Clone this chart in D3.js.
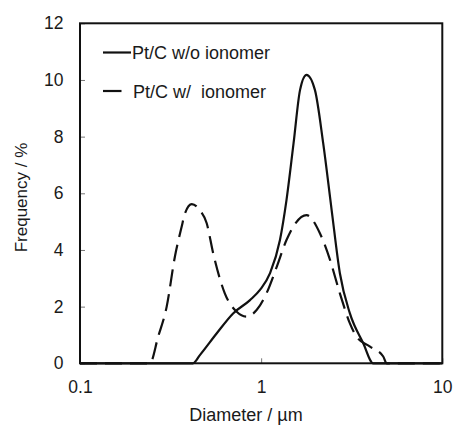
<!DOCTYPE html>
<html>
<head>
<meta charset="utf-8">
<script src="https://cdn.jsdelivr.net/npm/d3@7"></script>
<style>
  html, body { margin: 0; padding: 0; background: #fff; }
  svg { display: block; }
  text { font-family: "Liberation Sans", Arial, sans-serif; fill: #1a1a1a; }
</style>
</head>
<body>
<div id="chart"></div>
<script>
// ---- Data ----
const solidDiameter = [0.1, 0.42, 0.459, 0.569, 0.70, 0.868, 0.985, 1.12, 1.27, 1.38, 1.51, 1.64, 1.78, 1.98, 2.20, 2.45, 2.72, 3.09, 3.66, 4.16, 10];
const solidFreq     = [0,   0,    0.29,  1.06,  1.76, 2.23,  2.59,  3.18, 4.35, 5.76, 7.77, 9.65, 10.18, 9.65, 7.77, 5.41, 3.18, 1.76, 0.71, 0,   0];

const dashDiameter = [0.1, 0.243, 0.270, 0.301, 0.334, 0.364, 0.38, 0.414, 0.459, 0.50, 0.545, 0.63, 0.733, 0.83, 0.944, 1.07, 1.22, 1.38, 1.55, 1.78, 2.11, 2.40, 2.72, 3.09, 3.36, 3.99, 4.72, 4.93, 10];
const dashFreq     = [0,   0,     0.94,  2.0,   3.76,  4.82,  5.3,  5.62,  5.4,   4.95, 3.85,  2.47, 1.82,  1.65, 1.88,  2.47, 3.41, 4.35, 4.95, 5.23, 4.59, 3.65, 2.47, 1.41, 0.94, 0.59, 0.24, 0,    0];

const seriesNames = ["Pt/C w/o ionomer", "Pt/C w/  ionomer"];
const xTicks = [0.1, 1, 10];
const xTickLabels = ["0.1", "1", "10"];
const yTicks = [0, 2, 4, 6, 8, 10, 12];
const xTitle = "Diameter / \u00b5m";
const yTitle = "Frequency / %";

// ---- Layout ----
const W = 454, H = 426;
const plotLeft = 80, plotRight = 442.3, plotTop = 23.3, plotBottom = 363.3;

const svg = d3.select("#chart").append("svg").attr("width", W).attr("height", H);

const x = d3.scaleLog().domain([0.1, 10]).range([plotLeft, plotRight]);
const y = d3.scaleLinear().domain([0, 12]).range([plotBottom, plotTop]);

// Axes with inward ticks
const xAxis = d3.axisBottom(x).tickValues(xTicks)
  .tickFormat((d, i) => xTickLabels[i]).tickSize(-5).tickPadding(17);
const gx = svg.append("g").attr("transform", `translate(0,${plotBottom})`).call(xAxis);
gx.select(".domain").remove();
gx.selectAll(".tick line").attr("stroke", "#777").attr("stroke-width", 1);
gx.selectAll(".tick text").attr("font-size", 17.5).attr("fill", "#1a1a1a")
  .style("font-family", "'Liberation Sans', Arial, sans-serif");

const yAxis = d3.axisLeft(y).tickValues(yTicks).tickSize(-5).tickPadding(16.5);
const gy = svg.append("g").attr("transform", `translate(${plotLeft},0)`).call(yAxis);
gy.select(".domain").remove();
gy.selectAll(".tick line").attr("stroke", "#777").attr("stroke-width", 1);
gy.selectAll(".tick text").attr("font-size", 17.5).attr("fill", "#1a1a1a")
  .style("font-family", "'Liberation Sans', Arial, sans-serif");

// Curves
const line = d3.line().x(d => x(d[0])).y(d => y(d[1])).curve(d3.curveMonotoneX);
const solidData = solidDiameter.map((d, i) => [d, solidFreq[i]]);
const dashData = dashDiameter.map((d, i) => [d, dashFreq[i]]);

svg.append("path").datum(solidData).attr("d", line)
  .attr("fill", "none").attr("stroke", "#111").attr("stroke-width", 2.2)
  .attr("stroke-linejoin", "round");
svg.append("path").datum(dashData).attr("d", line)
  .attr("fill", "none").attr("stroke", "#111").attr("stroke-width", 2.2)
  .attr("stroke-dasharray", "17,8");

// Frame
svg.append("rect").attr("x", plotLeft).attr("y", plotTop)
  .attr("width", plotRight - plotLeft).attr("height", plotBottom - plotTop)
  .attr("fill", "none").attr("stroke", "#111").attr("stroke-width", 2);

// Legend
const legend = svg.append("g");
legend.append("line").attr("x1", 103).attr("x2", 131).attr("y1", 52.5).attr("y2", 52.5)
  .attr("stroke", "#111").attr("stroke-width", 2.2);
legend.append("text").attr("x", 132).attr("y", 58.5).attr("font-size", 18).text(seriesNames[0]);
legend.append("line").attr("x1", 103).attr("x2", 121.5).attr("y1", 91).attr("y2", 91)
  .attr("stroke", "#111").attr("stroke-width", 2.2);
legend.append("text").attr("x", 133).attr("y", 97.5).attr("font-size", 18)
  .style("white-space", "pre").attr("xml:space", "preserve").text(seriesNames[1]);

// Axis titles
svg.append("text").attr("x", 246).attr("y", 420.5).attr("text-anchor", "middle")
  .attr("font-size", 18).text(xTitle);
svg.append("text").attr("transform", "translate(27,197.5) rotate(-90)")
  .attr("text-anchor", "middle").attr("font-size", 17).text(yTitle);
</script>
</body>
</html>
